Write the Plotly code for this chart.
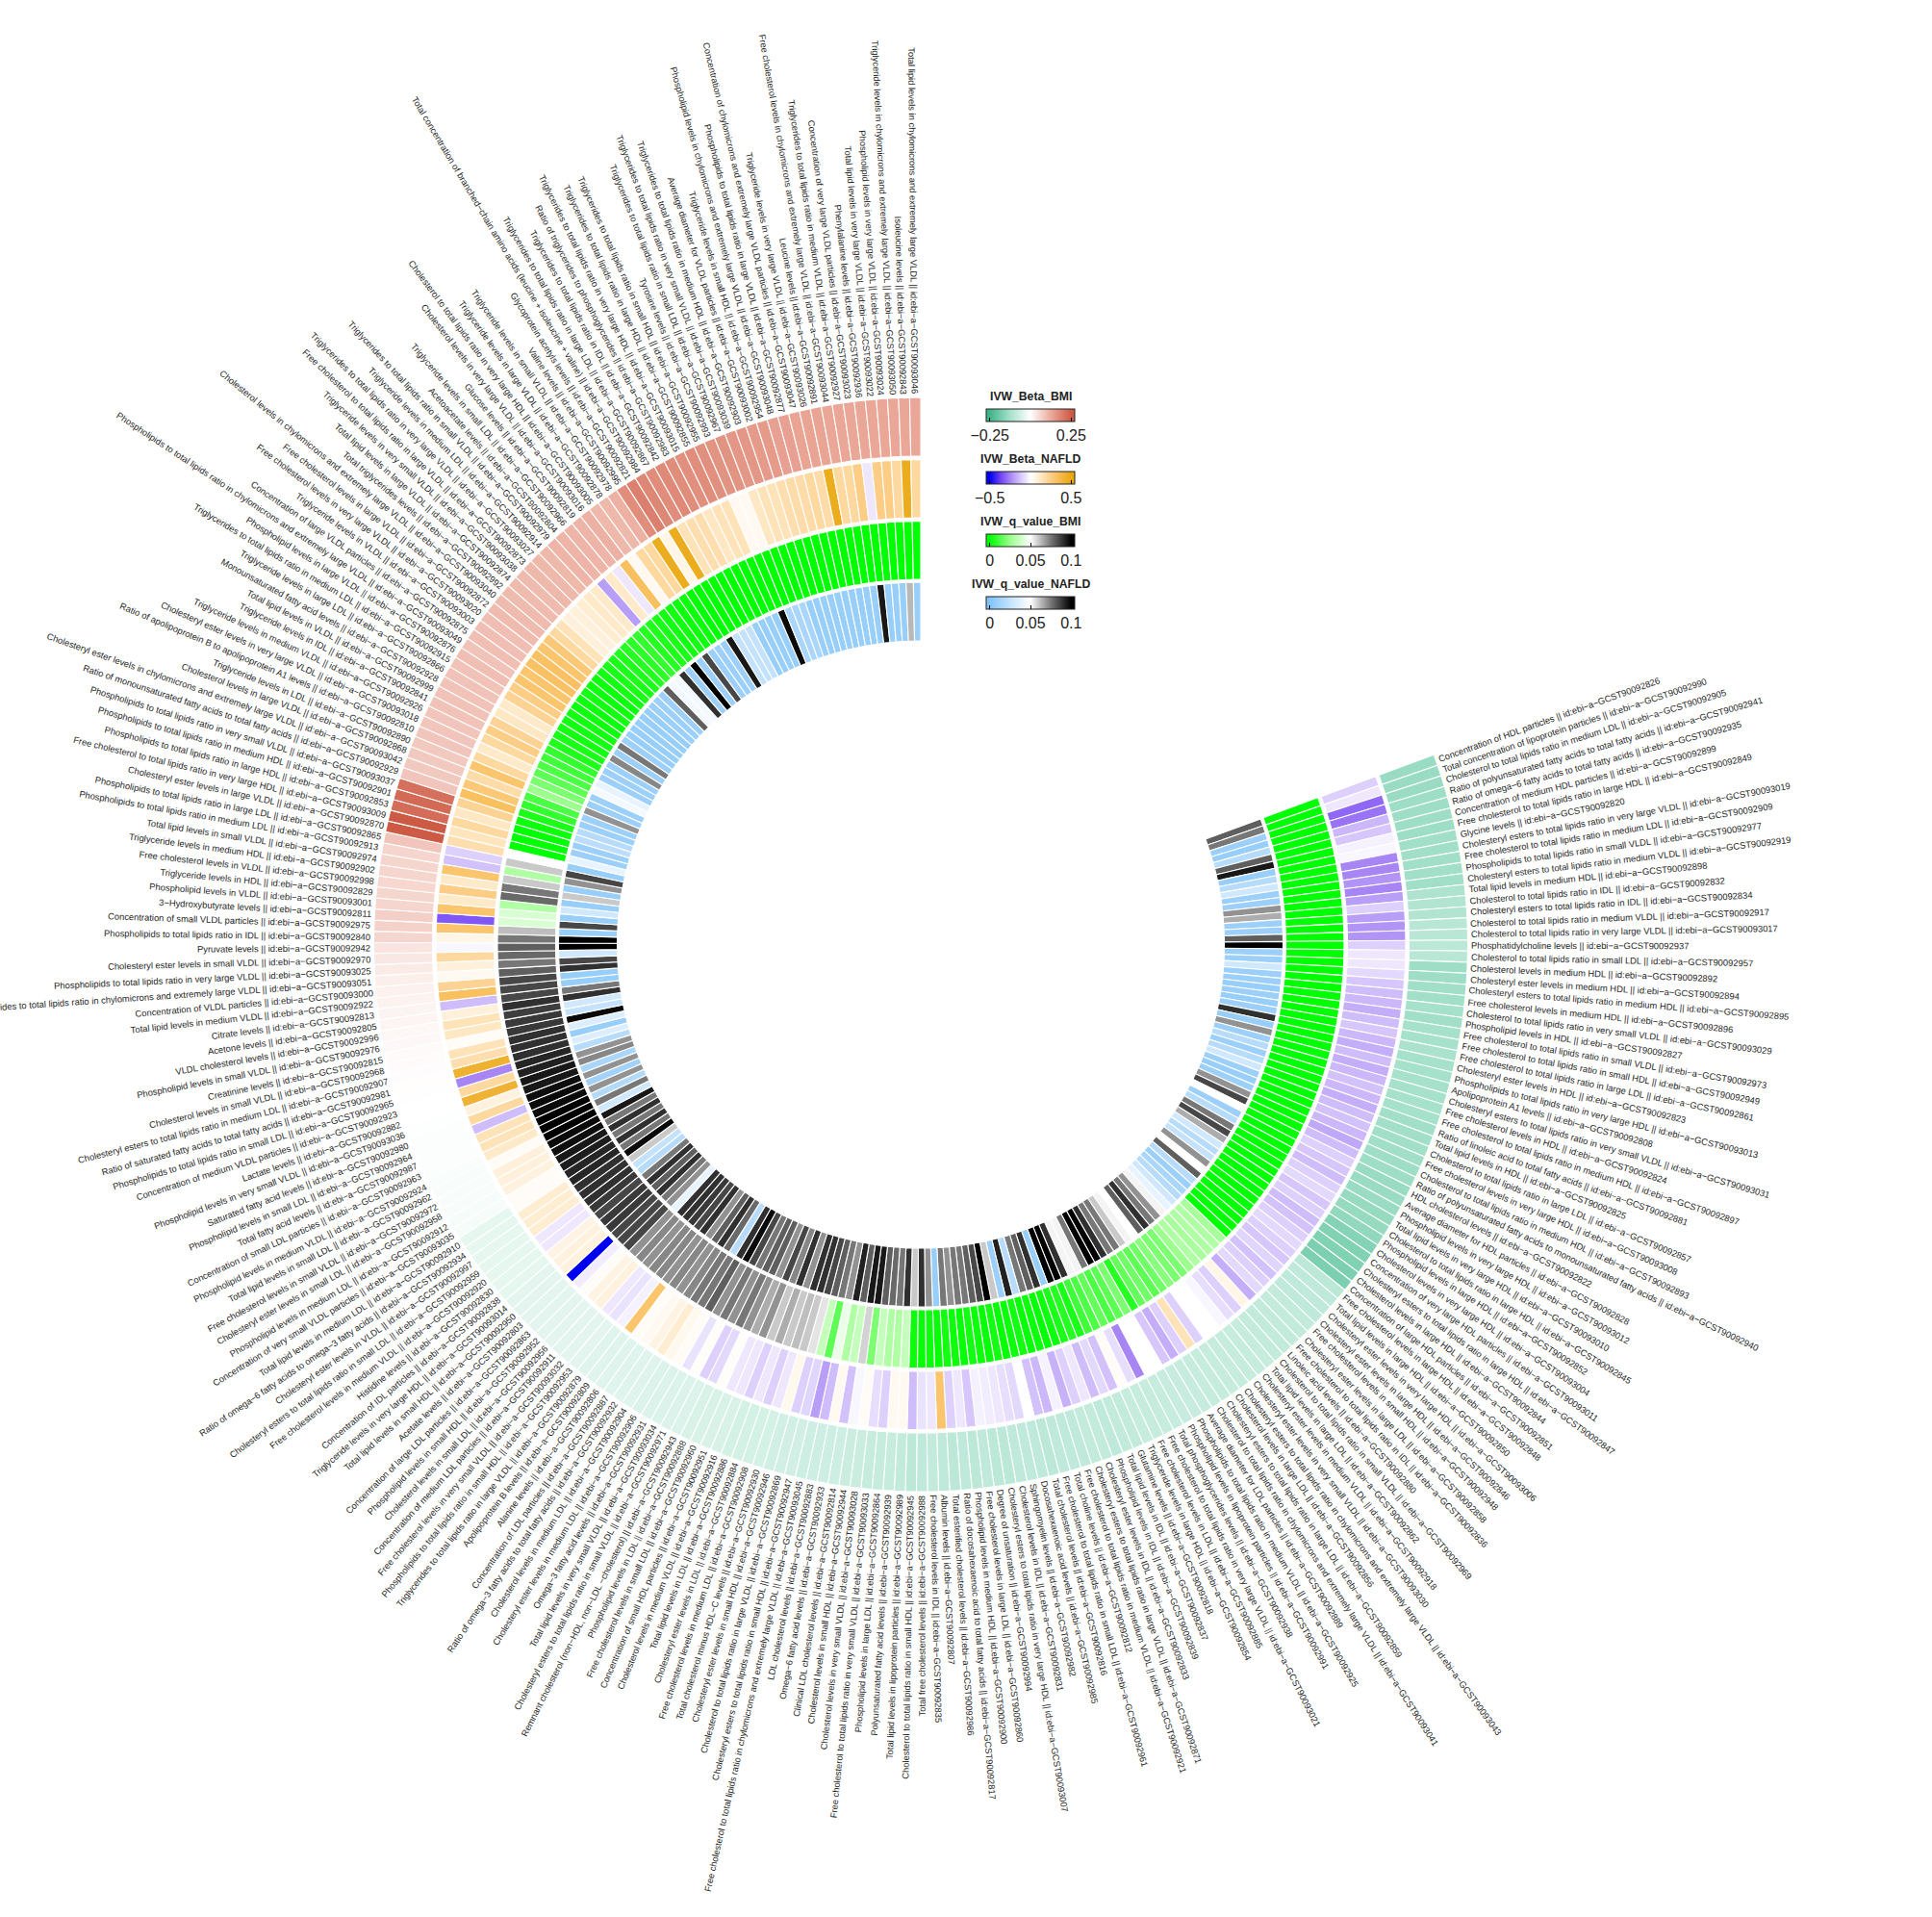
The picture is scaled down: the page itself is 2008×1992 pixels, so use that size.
import math
import plotly.graph_objects as go

CHY = "chylomicrons and extremely large VLDL"
TLR = " to total lipids ratio in "
trait_names = [
"Concentration of HDL particles","Total concentration of lipoprotein particles","Cholesterol"+TLR+"medium LDL","Ratio of polyunsaturated fatty acids to total fatty acids","Ratio of omega-6 fatty acids to total fatty acids","Concentration of medium HDL particles","Free cholesterol"+TLR+"large HDL","Glycine levels","Cholesteryl esters"+TLR+"very large VLDL","Free cholesterol"+TLR+"medium LDL",
"Phospholipids"+TLR+"small VLDL","Cholesteryl esters"+TLR+"medium VLDL","Total lipid levels in medium HDL","Cholesterol"+TLR+"IDL","Cholesteryl esters"+TLR+"IDL","Cholesterol"+TLR+"medium VLDL","Cholesterol"+TLR+"very large VLDL","Phosphatidylcholine levels","Cholesterol"+TLR+"small LDL","Cholesterol levels in medium HDL",
"Cholesteryl ester levels in medium HDL","Cholesteryl esters"+TLR+"medium HDL","Free cholesterol levels in medium HDL","Cholesterol"+TLR+"very small VLDL","Phospholipid levels in HDL","Free cholesterol"+TLR+"small VLDL","Free cholesterol"+TLR+"small HDL","Free cholesterol"+TLR+"large LDL","Cholesteryl ester levels in HDL","Phospholipids"+TLR+"very large HDL",
"Apolipoprotein A1 levels","Cholesteryl esters"+TLR+"very small VLDL","Free cholesterol levels in HDL","Free cholesterol"+TLR+"medium HDL","Ratio of linoleic acid to total fatty acids","Total lipid levels in HDL","Cholesterol"+TLR+"large LDL","Free cholesterol levels in very large HDL","Cholesterol"+TLR+"medium HDL","Ratio of polyunsaturated fatty acids to monounsaturated fatty acids",
"HDL cholesterol levels","Average diameter for HDL particles","Phospholipid levels in very large HDL","Total lipid levels in very large HDL","Cholesterol"+TLR+"large HDL","Phospholipid levels in large HDL","Cholesterol levels in very large HDL","Concentration of very large HDL particles","Cholesteryl esters"+TLR+"large HDL","Cholesterol levels in large HDL",
"Concentration of large HDL particles","Free cholesterol levels in large HDL","Total lipid levels in large HDL","Cholesteryl ester levels in very large HDL","Cholesteryl ester levels in large HDL","Free cholesterol levels in small HDL","Cholesteryl ester levels in large LDL","Free cholesterol"+TLR+"IDL","Linoleic acid levels","Cholesterol"+TLR+"small VLDL",
"Total lipid levels in large LDL","Cholesteryl ester levels in medium VLDL","Cholesteryl ester levels in very small VLDL","Cholesteryl esters"+TLR+CHY,"Cholesterol levels in large LDL","Cholesteryl esters"+TLR+"large LDL","Cholesterol"+TLR+CHY,"Average diameter for LDL particles","Phospholipids"+TLR+"medium VLDL","Phospholipid levels in lipoprotein particles",
"Total phosphoglycerides levels","Free cholesterol"+TLR+"very large VLDL","Free cholesterol levels in LDL","Triglyceride levels in large HDL","Glutamine levels","Total lipid levels in IDL","Phospholipid levels in IDL","Cholesteryl ester levels in IDL","Cholesteryl esters"+TLR+"large VLDL","Free cholesterol"+TLR+"medium VLDL",
"Total choline levels","Free cholesterol"+TLR+"small LDL","Total cholesterol levels","Docosahexaenoic acid levels","Sphingomyelin levels","Cholesterol levels in IDL","Cholesteryl esters"+TLR+"very large HDL","Degree of unsaturation","Free cholesterol levels in large LDL","Phospholipid levels in medium HDL",
"Ratio of docosahexaenoic acid to total fatty acids","Total esterified cholesterol levels","Albumin levels","Free cholesterol levels in IDL","Total free cholesterol levels","Cholesterol"+TLR+"small HDL","Total lipid levels in lipoprotein particles","Polyunsaturated fatty acid levels","Phospholipid levels in large LDL","Free cholesterol"+TLR+"very small VLDL",
"Cholesterol levels in very small VLDL","Cholesterol levels in small HDL","Clinical LDL cholesterol levels","Omega-6 fatty acid levels","LDL cholesterol levels","Free cholesterol"+TLR+CHY,"Cholesteryl esters"+TLR+"small HDL","Cholesterol"+TLR+"large VLDL","Cholesteryl ester levels in small HDL","Total cholesterol minus HDL-C levels",
"Free cholesterol levels in medium LDL","Cholesteryl ester levels in LDL","Total lipid levels in LDL","Cholesterol levels in medium VLDL","Concentration of small HDL particles","Free cholesterol levels in small LDL","Phospholipid levels in LDL","Remnant cholesterol (non-HDL, non-LDL -cholesterol)","Cholesteryl esters"+TLR+"small VLDL","Total lipid levels in very small VLDL",
"Omega-3 fatty acid levels","Cholesteryl ester levels in medium LDL","Cholesterol levels in medium LDL","Ratio of omega-3 fatty acids to total fatty acids","Concentration of LDL particles","Alanine levels","Apolipoprotein B levels","Triglycerides"+TLR+"large VLDL","Phospholipids"+TLR+"small HDL","Free cholesterol levels in very small VLDL",
"Concentration of medium LDL particles","Cholesterol levels in small LDL","Phospholipid levels in small HDL","Concentration of large LDL particles","Acetate levels","Total lipid levels in small HDL","Triglyceride levels in very large HDL","Concentration of IDL particles","Histidine levels","Free cholesterol levels in medium VLDL",
"Cholesteryl esters"+TLR+"small LDL","Cholesteryl ester levels in VLDL","Ratio of omega-6 fatty acids to omega-3 fatty acids","Total lipid levels in medium LDL","Concentration of very small VLDL particles","Phospholipid levels in medium LDL","Cholesteryl ester levels in small LDL","Free cholesterol levels in small VLDL","Total lipid levels in small LDL","Phospholipid levels in medium VLDL",
"Concentration of small LDL particles","Total fatty acid levels","Phospholipid levels in small LDL","Saturated fatty acid levels","Phospholipid levels in very small VLDL","Lactate levels","Concentration of medium VLDL particles","Phospholipids"+TLR+"small LDL","Ratio of saturated fatty acids to total fatty acids","Cholesteryl esters"+TLR+"medium LDL",
"Cholesterol levels in small VLDL","Creatinine levels","Phospholipid levels in small VLDL","VLDL cholesterol levels","Acetone levels","Citrate levels","Total lipid levels in medium VLDL","Concentration of VLDL particles","Triglycerides"+TLR+CHY,"Phospholipids"+TLR+"very large VLDL",
"Cholesteryl ester levels in small VLDL","Pyruvate levels","Phospholipids"+TLR+"IDL","Concentration of small VLDL particles","3-Hydroxybutyrate levels","Phospholipid levels in VLDL","Triglyceride levels in HDL","Free cholesterol levels in VLDL","Triglyceride levels in medium HDL","Total lipid levels in small VLDL",
"Phospholipids"+TLR+"medium LDL","Phospholipids"+TLR+"large LDL","Cholesteryl ester levels in large VLDL","Free cholesterol"+TLR+"very large HDL","Phospholipids"+TLR+"large HDL","Phospholipids"+TLR+"medium HDL","Phospholipids"+TLR+"very small VLDL","Ratio of monounsaturated fatty acids to total fatty acids","Cholesteryl ester levels in "+CHY,"Cholesterol levels in large VLDL",
"Triglyceride levels in LDL","Ratio of apolipoprotein B to apolipoprotein A1 levels","Cholesteryl ester levels in very large VLDL","Triglyceride levels in medium VLDL","Triglyceride levels in IDL","Total lipid levels in VLDL","Monounsaturated fatty acid levels","Triglyceride levels in large LDL","Triglycerides"+TLR+"medium LDL","Phospholipid levels in large VLDL",
"Phospholipids"+TLR+CHY,"Concentration of large VLDL particles","Triglyceride levels in VLDL","Free cholesterol levels in very large VLDL","Free cholesterol levels in large VLDL","Cholesterol levels in "+CHY,"Total triglycerides levels","Total lipid levels in large VLDL","Triglyceride levels in very small VLDL","Free cholesterol"+TLR+"large VLDL",
"Triglycerides"+TLR+"very large VLDL","Triglyceride levels in medium LDL","Triglycerides"+TLR+"small VLDL","Acetoacetate levels","Triglyceride levels in small LDL","Glucose levels","Cholesterol levels in very large VLDL","Cholesterol"+TLR+"very large HDL","Triglyceride levels in large VLDL","Triglyceride levels in small VLDL",
"Valine levels","Glycoprotein acetyls levels","Total concentration of branched-chain amino acids (leucine + isoleucine + valine)","Triglycerides"+TLR+"large LDL","Triglycerides"+TLR+"IDL","Ratio of triglycerides to phosphoglycerides","Triglycerides"+TLR+"very large HDL","Triglycerides"+TLR+"large HDL","Triglycerides"+TLR+"small HDL","Tyrosine levels",
"Triglycerides"+TLR+"small LDL","Triglycerides"+TLR+"very small VLDL","Triglycerides"+TLR+"medium HDL","Average diameter for VLDL particles","Triglyceride levels in small HDL","Phospholipid levels in "+CHY,"Phospholipids"+TLR+"large VLDL","Concentration of "+CHY+" particles","Triglyceride levels in very large VLDL","Leucine levels",
"Free cholesterol levels in "+CHY,"Triglycerides"+TLR+"medium VLDL","Concentration of very large VLDL particles","Phenylalanine levels","Total lipid levels in very large VLDL","Phospholipid levels in very large VLDL","Triglyceride levels in "+CHY,"Isoleucine levels","Total lipid levels in "+CHY,
]
trait_ids = [
92826,92990,92905,92941,92935,92899,92849,92820,93019,92909,
92977,92919,92898,92832,92834,92917,93017,92937,92957,92892,
92894,92895,92896,93029,92827,92973,92949,92861,92823,93013,
92808,93031,92824,92897,92881,92825,92857,93008,92893,92940,
92822,92828,93012,93010,92845,92852,93004,93011,92847,92844,
92851,92848,92850,93006,92846,92948,92858,92836,92880,92969,
92862,92918,93030,93043,92856,92859,93041,92889,92925,92991,
92938,93021,92885,92854,92818,92837,92839,92833,92871,92921,
92812,92961,92816,92985,92982,92831,93007,92994,92860,92900,
92817,92986,92807,92835,92988,92945,92989,92939,92864,93033,
93028,92944,92814,92933,92883,93045,92947,92869,92946,92930,
92908,92884,92886,92916,92951,92960,92888,92943,92971,93034,
92931,92906,92904,92932,92887,92806,92809,92879,92953,93032,
92911,92956,92952,92863,92803,92950,93014,92838,92830,92920,
92959,92997,92934,92910,93035,92912,92958,92972,92962,92924,
92963,92987,92964,92980,93036,92882,92923,92965,92981,92907,
92968,92815,92976,92996,92805,92813,92922,93000,93051,93025,
92970,92942,92840,92975,92811,93001,92829,92998,92902,92974,
92913,92865,92870,93009,92853,92901,93037,92929,93042,92868,
92890,92810,93018,92926,92841,92999,92928,92866,92915,92876,
93049,92875,93003,93020,92872,93040,92992,92874,93038,92873,
93027,92914,92979,92804,92966,92819,93016,93005,92878,92978,
92995,92821,92984,92867,92842,92983,93015,92855,92955,92993,
92967,93039,92903,93002,92954,93048,92877,93047,93026,92891,
93044,92927,93023,92936,93022,93024,93050,92843,93046,
]

ivw_beta_bmi = [
-.14,-.14,-.14,-.135,-.135,-.135,-.135,-.13,-.13,-.13,
-.13,-.13,-.115,-.11,-.11,-.10,-.10,-.095,-.10,-.135,
-.135,-.13,-.13,-.125,-.13,-.125,-.125,-.12,-.125,-.125,
-.125,-.125,-.125,-.125,-.13,-.13,-.13,-.13,-.135,-.135,
-.14,-.14,-.14,-.145,-.145,-.15,-.165,-.17,-.17,-.175,
-.175,-.095,-.09,-.09,-.09,-.085,-.085,-.085,-.085,-.085,
-.08,-.08,-.08,-.08,-.08,-.08,-.08,-.078,-.078,-.078,
-.08,-.08,-.08,-.08,-.085,-.085,-.09,-.085,-.085,-.09,
-.09,-.09,-.095,-.09,-.09,-.09,-.095,-.095,-.09,-.095,
-.09,-.095,-.09,-.085,-.09,-.095,-.085,-.08,-.08,-.08,
-.075,-.075,-.07,-.07,-.07,-.07,-.065,-.065,-.065,-.06,
-.06,-.06,-.06,-.055,-.055,-.055,-.055,-.05,-.05,-.05,
-.05,-.05,-.045,-.045,-.045,-.045,-.045,-.045,-.04,-.04,
-.04,-.04,-.04,-.04,-.04,-.04,-.04,-.035,-.035,-.035,
-.035,-.035,-.035,-.035,-.012,-.012,-.01,-.01,-.01,-.008,
-.006,-.005,-.004,-.004,-.003,-.002,-.002,.001,.002,.004,
.006,.008,.01,.012,.014,.016,.018,.02,.024,.03,
.035,.04,.06,.068,.07,.062,.06,.058,.06,.06,
.062,.085,.25,.25,.22,.225,.215,.085,.08,.08,
.08,.085,.085,.085,.09,.09,.09,.09,.09,.095,
.09,.095,.095,.095,.1,.1,.1,.1,.1,.105,
.105,.105,.11,.11,.11,.11,.115,.105,.105,.115,
.17,.19,.18,.17,.175,.17,.165,.17,.165,.16,
.16,.155,.155,.15,.15,.14,.14,.135,.135,.135,
.13,.13,.13,.13,.13,.13,.13,.13,.13,
]
ivw_beta_nafld = [
-.1,-.05,-.3,-.28,-.15,-.12,-.03,-.02,-.25,-.25,
-.22,-.25,-.2,-.1,-.2,-.22,-.22,-.1,-.05,-.05,
-.08,-.12,-.14,-.15,-.17,-.14,-.12,-.15,-.17,-.14,
-.17,-.15,-.13,-.15,-.17,-.14,-.13,-.15,-.18,-.14,
-.1,-.12,-.14,-.1,-.08,-.12,-.1,-.14,-.13,-.1,
-.08,-.1,-.12,-.09,-.13,-.1,-.08,-.17,.05,-.1,
-.07,-.02,0,0,-.1,.15,-.1,-.17,-.12,0,
0,-.25,-.07,.02,-.13,-.08,-.14,-.05,-.1,-.16,
-.03,-.15,-.13,0,-.08,-.07,-.05,-.04,-.03,-.12,
-.05,-.1,.3,-.05,-.06,-.14,.03,.03,-.1,-.07,
.02,-.02,-.13,.03,-.14,-.2,-.09,-.1,.04,-.05,
-.1,-.05,-.1,-.05,-.05,.01,-.08,-.1,.01,-.06,
.02,.04,.1,.06,.03,.02,.3,-.03,-.06,-.05,
.07,.06,.02,-.04,-.5,.07,.07,.06,-.05,-.05,
.1,.1,.1,.02,.02,.07,.08,.08,.02,.12,
.15,.15,-.14,.2,.07,.42,.2,-.25,.43,.17,
.15,.02,.13,.15,.08,-.14,.33,.22,.03,.08,
.2,-.02,.05,.3,-.33,.3,.12,.25,.12,.3,
-.13,-.1,.17,.14,.2,.13,.22,.33,.28,.18,
.3,.2,.12,.2,.25,.22,.13,.12,.22,.25,
.3,.3,.32,.32,.3,.28,.2,.15,.08,.08,
.1,.12,.12,-.2,.12,-.05,.33,.03,.2,.2,
.47,.05,.47,.15,.17,.17,.13,.15,.15,.03,
.03,.13,.15,.15,.17,.18,.18,.2,.18,.47,
.2,.2,.25,-.05,.25,.25,.2,.47,.2,
]
ivw_q_bmi = [
0,0,0,0,0,0,0,0,0,0,
0,0,0,0,0,0,0,0,0,0,
0,0,0,0,0,0,0,0,0,0,
0,0,0,0,0,0,0,0,0,0,
0,0,0,0,0,0,0,0,0,0,
0,0,0,0,0,.028,.03,.03,.028,.03,
.025,.02,.02,.022,.018,.015,.018,.016,.006,.02,
.015,.012,.016,.012,.01,.004,.006,.004,.002,.001,
.002,.001,.003,.002,.001,.003,.001,.002,.003,.001,
.002,.003,.001,.002,.001,.002,.035,.03,.03,.035,
.02,.058,.035,.03,.045,.015,.035,.055,.06,.062,
.06,.065,.06,.07,.065,.07,.075,.07,.075,.07,
.08,.075,.075,.072,.07,.072,.07,.072,.072,.07,
.072,.07,.085,.085,.085,.088,.088,.085,.088,.09,
.09,.09,.092,.092,.094,.095,.097,.098,.1,.1,
.1,.098,.098,.097,.095,.095,.093,.092,.09,.09,
.09,.088,.088,.087,.09,.085,.085,.085,.08,.075,
.078,.08,.075,.062,.04,.04,.03,.078,.075,.06,
.03,.06,.05,0,0,0,.002,.004,.008,.012,
.025,.02,.015,.012,.01,.008,.005,.004,.003,.003,
.003,.002,.002,.003,.002,.002,.003,.004,.004,.005,
.006,.007,.008,.006,.005,.004,.003,.003,.002,.002,
0,0,0,0,0,0,0,0,0,0,
0,0,0,0,0,0,0,0,0,0,
0,0,0,0,0,0,0,0,0,
]
ivw_q_nafld = [
.08,.075,.01,.008,.02,.08,.095,.008,.02,.03,
.01,.01,.07,.065,.01,.01,.08,.1,.01,.01,
.03,.01,.01,.008,.01,.008,.01,.09,.008,.07,
.01,.02,.01,.02,.03,.01,.008,.01,.07,.085,
.05,.01,.02,.075,.085,.065,.03,.02,.025,.07,
.05,.08,.02,.01,.015,.02,.03,.04,.052,.07,
.075,.09,.08,.05,.052,.06,.075,.075,.09,.1,
.1,.075,.052,.052,.09,.1,.1,.008,.09,.08,
.075,.02,.093,.01,.06,.1,.085,.08,.075,.075,
.07,.075,.008,.07,.09,.06,.09,.075,.078,.08,
.095,.095,.08,.093,.07,.075,.08,.085,.09,.09,
.07,.09,.072,.085,.07,.08,.08,.075,.085,.098,
.09,.02,.078,.09,.08,.07,.09,.085,.088,.09,
.09,.04,.07,.075,.09,.08,.09,.075,.02,.025,
.06,.098,.075,.09,.075,.09,.075,.095,.03,.075,
.018,.07,.012,.07,.015,.072,.07,.02,.035,.008,
.035,.098,.025,.03,.09,.075,.008,.008,.09,.085,
.03,.1,.1,.008,.085,.008,.03,.008,.06,.008,
.07,.085,.008,.04,.01,.01,.022,.02,.01,.01,
.07,.01,.01,.045,.04,.01,.01,.01,.072,.01,
.075,.01,.008,.008,.008,.008,.008,.01,.01,.01,
.08,.045,.045,.09,.01,.1,.01,.085,.01,.01,
.01,.095,.025,.025,.025,.008,.008,.008,.008,.098,
.015,.015,.015,.008,.008,.008,.008,.008,.008,.008,
.008,.008,.008,.095,.008,.008,.008,.063,.008,
]
n = len(trait_names)
assert n == 249 and len(trait_ids) == n
assert len(ivw_beta_bmi) == n and len(ivw_beta_nafld) == n and len(ivw_q_bmi) == n and len(ivw_q_nafld) == n

W, H = 2008, 1992
CX, CY = 957.0, 981.5
RMAX = 700.0
START = 69.7
STEP = (360.0 - START) / n
FS = 9.4
LABEL_R = 572.0
thetas = [START + STEP * (i + 0.5) for i in range(n)]


def scale(stops):
    lo, hi = stops[0][0], stops[-1][0]
    pad = (hi - lo) * 0.0435
    cmin, cmax = lo - pad, hi + pad
    cs = [[0, stops[0][1]]]
    for v, c in stops:
        cs.append([(v - cmin) / (cmax - cmin), c])
    cs.append([1, stops[-1][1]])
    return cs, cmin, cmax


rings = [
    dict(name="IVW_Beta_BMI", vals=ivw_beta_bmi, r0=507.5, r1=568.5, top=425,
         stops=[(-.25, "#3FB489"), (-.125, "#A6E1CB"), (0, "#FFFFFF"), (.125, "#EBAA9B"), (.25, "#CC5A45")],
         tv=[-.25, .25], tt=["\u22120.25", "0.25"]),
    dict(name="IVW_Beta_NAFLD", vals=ivw_beta_nafld, r0=443.5, r1=504.0, top=490,
         stops=[(-.5, "#0000F0"), (-.375, "#6A3DF5"), (-.25, "#A785F5"), (-.125, "#D4C4FB"), (0, "#FFFFFF"),
                (.125, "#FEE8C6"), (.25, "#FDCD85"), (.375, "#F5B84A"), (.5, "#E8A810")],
         tv=[-.5, .5], tt=["\u22120.5", "0.5"]),
    dict(name="IVW_q_value_BMI", vals=ivw_q_bmi, r0=379.5, r1=440.0, top=555,
         stops=[(0, "#00FF00"), (.025, "#9CFF8E"), (.05, "#FFFFFF"), (.075, "#777777"), (.1, "#000000")],
         tv=[0, .05, .1], tt=["0", "0.05", "0.1"]),
    dict(name="IVW_q_value_NAFLD", vals=ivw_q_nafld, r0=315.5, r1=376.5, top=620,
         stops=[(0, "#82C4F9"), (.025, "#C4E2FC"), (.05, "#FFFFFF"), (.075, "#777777"), (.1, "#000000")],
         tv=[0, .05, .1], tt=["0", "0.05", "0.1"]),
]

fig = go.Figure()
annotations = []
for ring in rings:
    cs, cmin, cmax = scale(ring["stops"])
    fig.add_trace(go.Barpolar(
        r=[ring["r1"] - ring["r0"]] * n,
        base=[ring["r0"]] * n,
        theta=thetas,
        width=[STEP] * n,
        name=ring["name"],
        hoverinfo="skip",
        marker=dict(
            color=ring["vals"], colorscale=cs, cmin=cmin, cmax=cmax,
            line=dict(color="white", width=1.1),
            colorbar=dict(
                orientation="h", x=1025 / W, xanchor="left", y=1 - ring["top"] / H, yanchor="top",
                len=92, lenmode="pixels", thickness=13, thicknessmode="pixels",
                xpad=0, ypad=0, outlinewidth=1, outlinecolor="#222",
                tickmode="array", tickvals=ring["tv"], ticktext=ring["tt"],
                ticks="inside", ticklen=4, tickwidth=1, tickcolor="#000",
                tickfont=dict(family="Liberation Sans", size=16, color="#222"),
            ),
        ),
    ))
    annotations.append(dict(
        text="<b>" + ring["name"] + "</b>", x=1071 / W, y=1 - (ring["top"] - 13) / H,
        xref="paper", yref="paper", xanchor="center", yanchor="middle", showarrow=False,
        font=dict(family="Liberation Sans", size=12.2, color="#222"),
    ))

for i, (name, gid, phi) in enumerate(zip(trait_names, trait_ids, thetas)):
    label = (name + " || id:ebi-a-GCST900" + str(gid)).replace("-", "\u2212")
    rad = math.radians(phi)
    px = CX + LABEL_R * math.sin(rad)
    py = CY - LABEL_R * math.cos(rad)
    hh = FS * 1.15 / 2
    right_side = i <= 93
    angle = phi - 90 if right_side else phi - 270
    sa, ca = abs(math.sin(math.radians(angle))), abs(math.cos(math.radians(angle)))
    if right_side:
        xa = "left"
        ax = px - hh * sa
        if angle < 0:
            ya, ay = "bottom", py + hh * ca
        else:
            ya, ay = "top", py - hh * ca
    else:
        xa = "right"
        ax = px + hh * sa
        if angle < 0:
            ya, ay = "top", py - hh * ca
        else:
            ya, ay = "bottom", py + hh * ca
    annotations.append(dict(
        text=label, x=ax / W, y=1 - ay / H, xref="paper", yref="paper",
        xanchor=xa, yanchor=ya, textangle=angle, showarrow=False, borderpad=0, borderwidth=0,
        font=dict(family="Liberation Sans", size=FS, color="#262626"),
    ))

fig.update_layout(
    width=W, height=H, margin=dict(l=0, r=0, t=0, b=0, pad=0),
    paper_bgcolor="white", plot_bgcolor="white", showlegend=False,
    annotations=annotations,
    polar=dict(
        domain=dict(x=[(CX - RMAX) / W, (CX + RMAX) / W], y=[1 - (CY + RMAX) / H, 1 - (CY - RMAX) / H]),
        bgcolor="rgba(0,0,0,0)",
        radialaxis=dict(visible=False, range=[0, RMAX]),
        angularaxis=dict(visible=False, rotation=90, direction="clockwise"),
        bargap=0,
    ),
)
fig.write_html("out.html", config=dict(displayModeBar=False),
               post_script="document.body.style.margin='0';document.documentElement.style.overflow='hidden';")
